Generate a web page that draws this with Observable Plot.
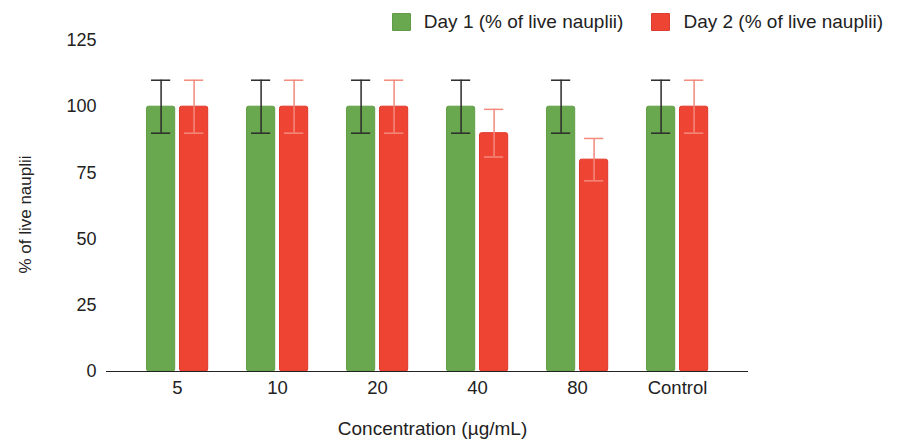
<!DOCTYPE html>
<html>
<head>
<meta charset="utf-8">
<script src="https://cdn.jsdelivr.net/npm/d3@7"></script>
<script src="https://cdn.jsdelivr.net/npm/@observablehq/plot@0.6"></script>
<style>
  html, body { margin: 0; padding: 0; background: #fff; }
  body { width: 898px; height: 446px; overflow: hidden; font-family: "Liberation Sans", Arial, sans-serif; }
  #legend { position: relative; z-index: 2; height: 28px; overflow: visible; display: flex; justify-content: flex-end; align-items: flex-start; padding-top: 13px; padding-right: 15px; box-sizing: border-box; }
  .item { display: flex; align-items: center; margin-left: 28px; font-size: 19px; color: #222; line-height: 18px; height: 18px; }
  .sw { width: 19px; height: 18px; border-radius: 1px; margin-right: 13px; box-sizing: border-box; border: 1px solid rgba(0,0,0,0.08); }
  #chart { position: relative; z-index: 1; }
</style>
</head>
<body>
<div id="legend"></div>
<div id="chart"></div>
<script>
const categories = ["5", "10", "20", "40", "80", "Control"];
const seriesNames = ["Day 1 (% of live nauplii)", "Day 2 (% of live nauplii)"];
const day1Values = [100, 100, 100, 100, 100, 100];
const day1Errors = [10, 10, 10, 10, 10, 10];
const day2Values = [100, 100, 100, 90, 80, 100];
const day2Errors = [10, 10, 10, 9, 8, 10];
const yTicks = [0, 25, 50, 75, 100, 125];
const barColors = ["#6aa84f", "#ee4434"];
const barStrokes = ["#62a048", "#e0382a"];
const errColors = ["#2b2b2b", "#f38a7c"];
const yTitle = "% of live nauplii";
const xTitle = "Concentration (µg/mL)";

const day1 = categories.map((c, i) => ({cat: c, value: day1Values[i], err: day1Errors[i]}));
const day2 = categories.map((c, i) => ({cat: c, value: day2Values[i], err: day2Errors[i]}));

// legend
const legend = document.getElementById("legend");
seriesNames.forEach((s, i) => {
  const it = document.createElement("div");
  it.className = "item";
  const sw = document.createElement("span");
  sw.className = "sw";
  sw.style.background = barColors[i];
  it.appendChild(sw);
  it.appendChild(document.createTextNode(s));
  legend.appendChild(it);
});

const lo = d => d.value - d.err;
const hi = d => d.value + d.err;

const chart = Plot.plot({
  width: 898,
  height: 418,
  marginTop: 12,
  marginBottom: 75,
  marginLeft: 106,
  marginRight: 150,
  style: {fontFamily: "'Liberation Sans', Arial, sans-serif", fontSize: "18px", color: "#222", background: "transparent", overflow: "visible"},
  x: {domain: categories, padding: 0, insetLeft: 18.5, insetRight: 18.5, label: null},
  y: {domain: [0, 125], label: null},
  marks: [
    Plot.axisY({ticks: yTicks, tickSize: 0, tickPadding: 10, label: null, fontSize: 18}),
    Plot.axisX({tickSize: 0, tickPadding: 9, label: null, fontSize: 18.5}),
    Plot.barY(day1, {x: "cat", y: "value", fill: barColors[0], stroke: barStrokes[0], strokeWidth: 1, rx: 2, insetLeft: 19.5, insetRight: 52.3}),
    Plot.barY(day2, {x: "cat", y: "value", fill: barColors[1], stroke: barStrokes[1], strokeWidth: 1, rx: 2, insetLeft: 52.5, insetRight: 19.3}),
    Plot.ruleX(day1, {x: "cat", y1: lo, y2: hi, dx: -16.4, stroke: errColors[0], strokeWidth: 1.5}),
    Plot.tickY(day1, {x: "cat", y: lo, insetLeft: 24, insetRight: 56.8, stroke: errColors[0], strokeWidth: 1.5}),
    Plot.tickY(day1, {x: "cat", y: hi, insetLeft: 24, insetRight: 56.8, stroke: errColors[0], strokeWidth: 1.5}),
    Plot.ruleX(day2, {x: "cat", y1: lo, y2: hi, dx: 16.6, stroke: errColors[1], strokeWidth: 1.5}),
    Plot.tickY(day2, {x: "cat", y: lo, insetLeft: 57, insetRight: 23.8, stroke: errColors[1], strokeWidth: 1.5}),
    Plot.tickY(day2, {x: "cat", y: hi, insetLeft: 57, insetRight: 23.8, stroke: errColors[1], strokeWidth: 1.5}),
    Plot.ruleY([0], {stroke: "#222", strokeWidth: 1.2}),
    Plot.text([yTitle], {frameAnchor: "left", textAnchor: "middle", rotate: -90, dx: -81, dy: 8.5, fontSize: 17, fill: "#222"}),
    Plot.text([xTitle], {frameAnchor: "bottom", dx: 5, dy: 63, fontSize: 19, fill: "#222"})
  ]
});
document.getElementById("chart").appendChild(chart);
</script>
</body>
</html>
